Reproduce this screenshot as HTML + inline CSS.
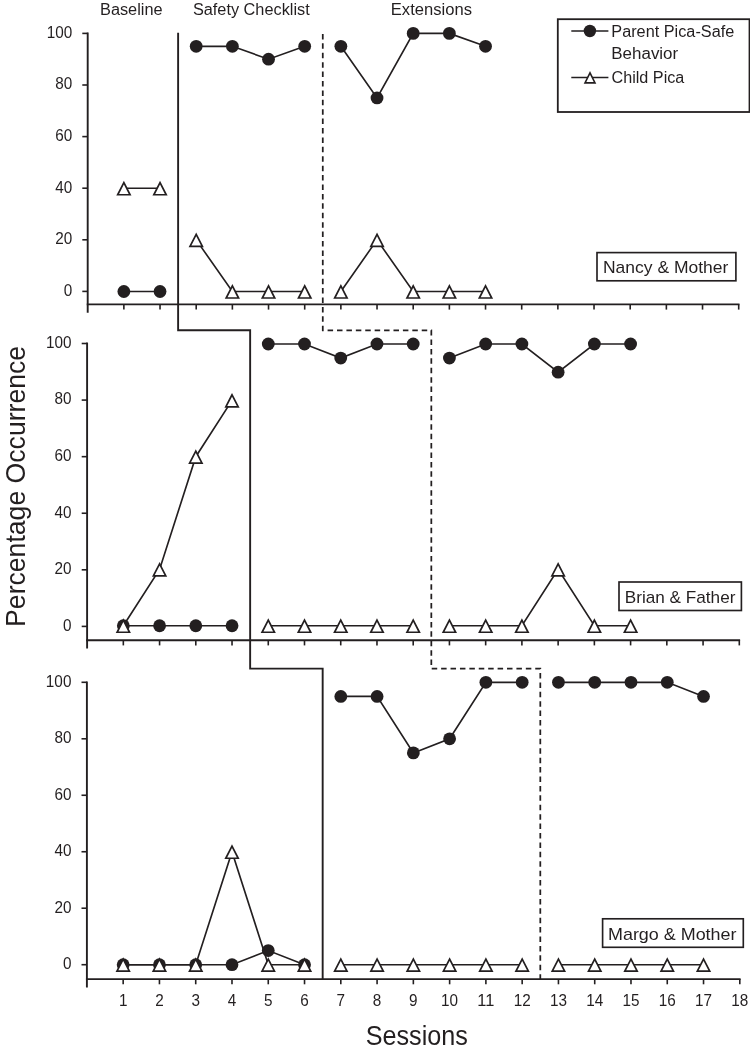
<!DOCTYPE html><html><head><meta charset="utf-8"><style>html,body{margin:0;padding:0;background:#fff}svg{display:block;will-change:transform}text{font-family:"Liberation Sans",sans-serif;fill:#231f20}</style></head><body>
<svg width="750" height="1055" viewBox="0 0 750 1055">
<rect width="750" height="1055" fill="#fff"/>
<g stroke="#231f20" stroke-width="1.9" fill="none">
<path d="M87.70 32.50 V312.70"/>
<path d="M86.75 304.40 H739.50"/>
</g>
<g stroke="#231f20" stroke-width="1.6" fill="none">
<path d="M82.30 291.40 H87.70"/>
<path d="M82.30 239.80 H87.70"/>
<path d="M82.30 188.20 H87.70"/>
<path d="M82.30 136.60 H87.70"/>
<path d="M82.30 85.00 H87.70"/>
<path d="M82.30 33.40 H87.70"/>
<path d="M123.87 304.40 V309.60"/>
<path d="M160.03 304.40 V309.60"/>
<path d="M196.20 304.40 V309.60"/>
<path d="M232.37 304.40 V309.60"/>
<path d="M268.53 304.40 V309.60"/>
<path d="M304.70 304.40 V309.60"/>
<path d="M340.87 304.40 V309.60"/>
<path d="M377.03 304.40 V309.60"/>
<path d="M413.20 304.40 V309.60"/>
<path d="M449.37 304.40 V309.60"/>
<path d="M485.53 304.40 V309.60"/>
<path d="M521.70 304.40 V309.60"/>
<path d="M557.87 304.40 V309.60"/>
<path d="M594.03 304.40 V309.60"/>
<path d="M630.20 304.40 V309.60"/>
<path d="M666.37 304.40 V309.60"/>
<path d="M702.53 304.40 V309.60"/>
<path d="M738.70 304.40 V309.60"/>
</g>
<text x="63.69" y="295.70" font-size="15.9" textLength="8.51" lengthAdjust="spacingAndGlyphs">0</text>
<text x="55.18" y="244.10" font-size="15.9" textLength="17.02" lengthAdjust="spacingAndGlyphs">20</text>
<text x="55.18" y="192.50" font-size="15.9" textLength="17.02" lengthAdjust="spacingAndGlyphs">40</text>
<text x="55.18" y="140.90" font-size="15.9" textLength="17.02" lengthAdjust="spacingAndGlyphs">60</text>
<text x="55.18" y="89.30" font-size="15.9" textLength="17.02" lengthAdjust="spacingAndGlyphs">80</text>
<text x="46.67" y="37.70" font-size="15.9" textLength="25.53" lengthAdjust="spacingAndGlyphs">100</text>
<g stroke="#231f20" stroke-width="1.65" fill="none">
<polyline points="123.87,291.50 160.03,291.50"/>
<polyline points="196.20,46.30 232.37,46.30 268.53,59.21 304.70,46.30"/>
<polyline points="340.87,46.30 377.03,97.93 413.20,33.40 449.37,33.40 485.53,46.30"/>
</g>
<g fill="#231f20">
<circle cx="123.87" cy="291.50" r="6.4"/>
<circle cx="160.03" cy="291.50" r="6.4"/>
<circle cx="196.20" cy="46.30" r="6.4"/>
<circle cx="232.37" cy="46.30" r="6.4"/>
<circle cx="268.53" cy="59.21" r="6.4"/>
<circle cx="304.70" cy="46.30" r="6.4"/>
<circle cx="340.87" cy="46.30" r="6.4"/>
<circle cx="377.03" cy="97.93" r="6.4"/>
<circle cx="413.20" cy="33.40" r="6.4"/>
<circle cx="449.37" cy="33.40" r="6.4"/>
<circle cx="485.53" cy="46.30" r="6.4"/>
</g>
<g stroke="#231f20" stroke-width="1.65" fill="none">
<polyline points="123.87,188.26 160.03,188.26"/>
<polyline points="196.20,239.88 232.37,291.50 268.53,291.50 304.70,291.50"/>
<polyline points="340.87,291.50 377.03,239.88 413.20,291.50 449.37,291.50 485.53,291.50"/>
</g>
<path d="M123.87 182.66 L117.67 194.76 L130.07 194.76 Z" fill="#fff" stroke="#231f20" stroke-width="1.70" stroke-linejoin="miter"/>
<path d="M160.03 182.66 L153.83 194.76 L166.23 194.76 Z" fill="#fff" stroke="#231f20" stroke-width="1.70" stroke-linejoin="miter"/>
<path d="M196.20 234.28 L190.00 246.38 L202.40 246.38 Z" fill="#fff" stroke="#231f20" stroke-width="1.70" stroke-linejoin="miter"/>
<path d="M232.37 285.90 L226.17 298.00 L238.57 298.00 Z" fill="#fff" stroke="#231f20" stroke-width="1.70" stroke-linejoin="miter"/>
<path d="M268.53 285.90 L262.33 298.00 L274.73 298.00 Z" fill="#fff" stroke="#231f20" stroke-width="1.70" stroke-linejoin="miter"/>
<path d="M304.70 285.90 L298.50 298.00 L310.90 298.00 Z" fill="#fff" stroke="#231f20" stroke-width="1.70" stroke-linejoin="miter"/>
<path d="M340.87 285.90 L334.67 298.00 L347.07 298.00 Z" fill="#fff" stroke="#231f20" stroke-width="1.70" stroke-linejoin="miter"/>
<path d="M377.03 234.28 L370.83 246.38 L383.23 246.38 Z" fill="#fff" stroke="#231f20" stroke-width="1.70" stroke-linejoin="miter"/>
<path d="M413.20 285.90 L407.00 298.00 L419.40 298.00 Z" fill="#fff" stroke="#231f20" stroke-width="1.70" stroke-linejoin="miter"/>
<path d="M449.37 285.90 L443.17 298.00 L455.57 298.00 Z" fill="#fff" stroke="#231f20" stroke-width="1.70" stroke-linejoin="miter"/>
<path d="M485.53 285.90 L479.33 298.00 L491.73 298.00 Z" fill="#fff" stroke="#231f20" stroke-width="1.70" stroke-linejoin="miter"/>
<g stroke="#231f20" stroke-width="1.9" fill="none">
<path d="M87.10 342.60 V648.50"/>
<path d="M86.15 640.20 H740.10"/>
</g>
<g stroke="#231f20" stroke-width="1.6" fill="none">
<path d="M81.70 626.40 H87.10"/>
<path d="M81.70 569.82 H87.10"/>
<path d="M81.70 513.24 H87.10"/>
<path d="M81.70 456.66 H87.10"/>
<path d="M81.70 400.08 H87.10"/>
<path d="M81.70 343.50 H87.10"/>
<path d="M123.33 640.20 V645.40"/>
<path d="M159.57 640.20 V645.40"/>
<path d="M195.80 640.20 V645.40"/>
<path d="M232.03 640.20 V645.40"/>
<path d="M268.27 640.20 V645.40"/>
<path d="M304.50 640.20 V645.40"/>
<path d="M340.73 640.20 V645.40"/>
<path d="M376.97 640.20 V645.40"/>
<path d="M413.20 640.20 V645.40"/>
<path d="M449.43 640.20 V645.40"/>
<path d="M485.67 640.20 V645.40"/>
<path d="M521.90 640.20 V645.40"/>
<path d="M558.13 640.20 V645.40"/>
<path d="M594.37 640.20 V645.40"/>
<path d="M630.60 640.20 V645.40"/>
<path d="M666.83 640.20 V645.40"/>
<path d="M703.07 640.20 V645.40"/>
<path d="M739.30 640.20 V645.40"/>
</g>
<text x="63.09" y="630.70" font-size="15.9" textLength="8.51" lengthAdjust="spacingAndGlyphs">0</text>
<text x="54.58" y="574.12" font-size="15.9" textLength="17.02" lengthAdjust="spacingAndGlyphs">20</text>
<text x="54.58" y="517.54" font-size="15.9" textLength="17.02" lengthAdjust="spacingAndGlyphs">40</text>
<text x="54.58" y="460.96" font-size="15.9" textLength="17.02" lengthAdjust="spacingAndGlyphs">60</text>
<text x="54.58" y="404.38" font-size="15.9" textLength="17.02" lengthAdjust="spacingAndGlyphs">80</text>
<text x="46.07" y="347.80" font-size="15.9" textLength="25.53" lengthAdjust="spacingAndGlyphs">100</text>
<g stroke="#231f20" stroke-width="1.65" fill="none">
<polyline points="123.33,625.75 159.57,625.75 195.80,625.75 232.03,625.75"/>
<polyline points="268.27,344.00 304.50,344.00 340.73,358.09 376.97,344.00 413.20,344.00"/>
<polyline points="449.43,358.09 485.67,344.00 521.90,344.00 558.13,372.18 594.37,344.00 630.60,344.00"/>
</g>
<g fill="#231f20">
<circle cx="123.33" cy="625.75" r="6.4"/>
<circle cx="159.57" cy="625.75" r="6.4"/>
<circle cx="195.80" cy="625.75" r="6.4"/>
<circle cx="232.03" cy="625.75" r="6.4"/>
<circle cx="268.27" cy="344.00" r="6.4"/>
<circle cx="304.50" cy="344.00" r="6.4"/>
<circle cx="340.73" cy="358.09" r="6.4"/>
<circle cx="376.97" cy="344.00" r="6.4"/>
<circle cx="413.20" cy="344.00" r="6.4"/>
<circle cx="449.43" cy="358.09" r="6.4"/>
<circle cx="485.67" cy="344.00" r="6.4"/>
<circle cx="521.90" cy="344.00" r="6.4"/>
<circle cx="558.13" cy="372.18" r="6.4"/>
<circle cx="594.37" cy="344.00" r="6.4"/>
<circle cx="630.60" cy="344.00" r="6.4"/>
</g>
<g stroke="#231f20" stroke-width="1.65" fill="none">
<polyline points="123.33,625.75 159.57,569.40 195.80,456.70 232.03,400.35"/>
<polyline points="268.27,625.75 304.50,625.75 340.73,625.75 376.97,625.75 413.20,625.75"/>
<polyline points="449.43,625.75 485.67,625.75 521.90,625.75 558.13,569.40 594.37,625.75 630.60,625.75"/>
</g>
<path d="M123.33 620.15 L117.13 632.25 L129.53 632.25 Z" fill="#fff" stroke="#231f20" stroke-width="1.70" stroke-linejoin="miter"/>
<path d="M159.57 563.80 L153.37 575.90 L165.77 575.90 Z" fill="#fff" stroke="#231f20" stroke-width="1.70" stroke-linejoin="miter"/>
<path d="M195.80 451.10 L189.60 463.20 L202.00 463.20 Z" fill="#fff" stroke="#231f20" stroke-width="1.70" stroke-linejoin="miter"/>
<path d="M232.03 394.75 L225.83 406.85 L238.23 406.85 Z" fill="#fff" stroke="#231f20" stroke-width="1.70" stroke-linejoin="miter"/>
<path d="M268.27 620.15 L262.07 632.25 L274.47 632.25 Z" fill="#fff" stroke="#231f20" stroke-width="1.70" stroke-linejoin="miter"/>
<path d="M304.50 620.15 L298.30 632.25 L310.70 632.25 Z" fill="#fff" stroke="#231f20" stroke-width="1.70" stroke-linejoin="miter"/>
<path d="M340.73 620.15 L334.53 632.25 L346.93 632.25 Z" fill="#fff" stroke="#231f20" stroke-width="1.70" stroke-linejoin="miter"/>
<path d="M376.97 620.15 L370.77 632.25 L383.17 632.25 Z" fill="#fff" stroke="#231f20" stroke-width="1.70" stroke-linejoin="miter"/>
<path d="M413.20 620.15 L407.00 632.25 L419.40 632.25 Z" fill="#fff" stroke="#231f20" stroke-width="1.70" stroke-linejoin="miter"/>
<path d="M449.43 620.15 L443.23 632.25 L455.63 632.25 Z" fill="#fff" stroke="#231f20" stroke-width="1.70" stroke-linejoin="miter"/>
<path d="M485.67 620.15 L479.47 632.25 L491.87 632.25 Z" fill="#fff" stroke="#231f20" stroke-width="1.70" stroke-linejoin="miter"/>
<path d="M521.90 620.15 L515.70 632.25 L528.10 632.25 Z" fill="#fff" stroke="#231f20" stroke-width="1.70" stroke-linejoin="miter"/>
<path d="M558.13 563.80 L551.93 575.90 L564.33 575.90 Z" fill="#fff" stroke="#231f20" stroke-width="1.70" stroke-linejoin="miter"/>
<path d="M594.37 620.15 L588.17 632.25 L600.57 632.25 Z" fill="#fff" stroke="#231f20" stroke-width="1.70" stroke-linejoin="miter"/>
<path d="M630.60 620.15 L624.40 632.25 L636.80 632.25 Z" fill="#fff" stroke="#231f20" stroke-width="1.70" stroke-linejoin="miter"/>
<g stroke="#231f20" stroke-width="1.9" fill="none">
<path d="M86.90 681.40 V987.40"/>
<path d="M85.95 979.10 H740.60"/>
</g>
<g stroke="#231f20" stroke-width="1.6" fill="none">
<path d="M81.50 964.70 H86.90"/>
<path d="M81.50 908.22 H86.90"/>
<path d="M81.50 851.74 H86.90"/>
<path d="M81.50 795.26 H86.90"/>
<path d="M81.50 738.78 H86.90"/>
<path d="M81.50 682.30 H86.90"/>
<path d="M123.17 979.10 V984.30"/>
<path d="M159.44 979.10 V984.30"/>
<path d="M195.72 979.10 V984.30"/>
<path d="M231.99 979.10 V984.30"/>
<path d="M268.26 979.10 V984.30"/>
<path d="M304.53 979.10 V984.30"/>
<path d="M340.81 979.10 V984.30"/>
<path d="M377.08 979.10 V984.30"/>
<path d="M413.35 979.10 V984.30"/>
<path d="M449.62 979.10 V984.30"/>
<path d="M485.89 979.10 V984.30"/>
<path d="M522.17 979.10 V984.30"/>
<path d="M558.44 979.10 V984.30"/>
<path d="M594.71 979.10 V984.30"/>
<path d="M630.98 979.10 V984.30"/>
<path d="M667.26 979.10 V984.30"/>
<path d="M703.53 979.10 V984.30"/>
<path d="M739.80 979.10 V984.30"/>
</g>
<text x="62.89" y="969.00" font-size="15.9" textLength="8.51" lengthAdjust="spacingAndGlyphs">0</text>
<text x="54.38" y="912.52" font-size="15.9" textLength="17.02" lengthAdjust="spacingAndGlyphs">20</text>
<text x="54.38" y="856.04" font-size="15.9" textLength="17.02" lengthAdjust="spacingAndGlyphs">40</text>
<text x="54.38" y="799.56" font-size="15.9" textLength="17.02" lengthAdjust="spacingAndGlyphs">60</text>
<text x="54.38" y="743.08" font-size="15.9" textLength="17.02" lengthAdjust="spacingAndGlyphs">80</text>
<text x="45.87" y="686.60" font-size="15.9" textLength="25.53" lengthAdjust="spacingAndGlyphs">100</text>
<g stroke="#231f20" stroke-width="1.65" fill="none">
<polyline points="123.17,964.70 159.44,964.70 195.72,964.70 231.99,964.70 268.26,950.58 304.53,964.70"/>
<polyline points="340.81,696.42 377.08,696.42 413.35,752.90 449.62,738.78 485.89,682.30 522.17,682.30"/>
<polyline points="558.44,682.30 594.71,682.30 630.98,682.30 667.26,682.30 703.53,696.42"/>
</g>
<g fill="#231f20">
<circle cx="123.17" cy="964.70" r="6.4"/>
<circle cx="159.44" cy="964.70" r="6.4"/>
<circle cx="195.72" cy="964.70" r="6.4"/>
<circle cx="231.99" cy="964.70" r="6.4"/>
<circle cx="268.26" cy="950.58" r="6.4"/>
<circle cx="304.53" cy="964.70" r="6.4"/>
<circle cx="340.81" cy="696.42" r="6.4"/>
<circle cx="377.08" cy="696.42" r="6.4"/>
<circle cx="413.35" cy="752.90" r="6.4"/>
<circle cx="449.62" cy="738.78" r="6.4"/>
<circle cx="485.89" cy="682.30" r="6.4"/>
<circle cx="522.17" cy="682.30" r="6.4"/>
<circle cx="558.44" cy="682.30" r="6.4"/>
<circle cx="594.71" cy="682.30" r="6.4"/>
<circle cx="630.98" cy="682.30" r="6.4"/>
<circle cx="667.26" cy="682.30" r="6.4"/>
<circle cx="703.53" cy="696.42" r="6.4"/>
</g>
<g stroke="#231f20" stroke-width="1.65" fill="none">
<polyline points="123.17,964.70 159.44,964.70 195.72,964.70 231.99,851.74 268.26,964.70 304.53,964.70"/>
<polyline points="340.81,964.70 377.08,964.70 413.35,964.70 449.62,964.70 485.89,964.70 522.17,964.70"/>
<polyline points="558.44,964.70 594.71,964.70 630.98,964.70 667.26,964.70 703.53,964.70"/>
</g>
<path d="M123.17 959.10 L116.97 971.20 L129.37 971.20 Z" fill="#fff" stroke="#231f20" stroke-width="1.70" stroke-linejoin="miter"/>
<path d="M159.44 959.10 L153.24 971.20 L165.64 971.20 Z" fill="#fff" stroke="#231f20" stroke-width="1.70" stroke-linejoin="miter"/>
<path d="M195.72 959.10 L189.52 971.20 L201.92 971.20 Z" fill="#fff" stroke="#231f20" stroke-width="1.70" stroke-linejoin="miter"/>
<path d="M231.99 846.14 L225.79 858.24 L238.19 858.24 Z" fill="#fff" stroke="#231f20" stroke-width="1.70" stroke-linejoin="miter"/>
<path d="M268.26 959.10 L262.06 971.20 L274.46 971.20 Z" fill="#fff" stroke="#231f20" stroke-width="1.70" stroke-linejoin="miter"/>
<path d="M304.53 959.10 L298.33 971.20 L310.73 971.20 Z" fill="#fff" stroke="#231f20" stroke-width="1.70" stroke-linejoin="miter"/>
<path d="M340.81 959.10 L334.61 971.20 L347.01 971.20 Z" fill="#fff" stroke="#231f20" stroke-width="1.70" stroke-linejoin="miter"/>
<path d="M377.08 959.10 L370.88 971.20 L383.28 971.20 Z" fill="#fff" stroke="#231f20" stroke-width="1.70" stroke-linejoin="miter"/>
<path d="M413.35 959.10 L407.15 971.20 L419.55 971.20 Z" fill="#fff" stroke="#231f20" stroke-width="1.70" stroke-linejoin="miter"/>
<path d="M449.62 959.10 L443.42 971.20 L455.82 971.20 Z" fill="#fff" stroke="#231f20" stroke-width="1.70" stroke-linejoin="miter"/>
<path d="M485.89 959.10 L479.69 971.20 L492.09 971.20 Z" fill="#fff" stroke="#231f20" stroke-width="1.70" stroke-linejoin="miter"/>
<path d="M522.17 959.10 L515.97 971.20 L528.37 971.20 Z" fill="#fff" stroke="#231f20" stroke-width="1.70" stroke-linejoin="miter"/>
<path d="M558.44 959.10 L552.24 971.20 L564.64 971.20 Z" fill="#fff" stroke="#231f20" stroke-width="1.70" stroke-linejoin="miter"/>
<path d="M594.71 959.10 L588.51 971.20 L600.91 971.20 Z" fill="#fff" stroke="#231f20" stroke-width="1.70" stroke-linejoin="miter"/>
<path d="M630.98 959.10 L624.78 971.20 L637.18 971.20 Z" fill="#fff" stroke="#231f20" stroke-width="1.70" stroke-linejoin="miter"/>
<path d="M667.26 959.10 L661.06 971.20 L673.46 971.20 Z" fill="#fff" stroke="#231f20" stroke-width="1.70" stroke-linejoin="miter"/>
<path d="M703.53 959.10 L697.33 971.20 L709.73 971.20 Z" fill="#fff" stroke="#231f20" stroke-width="1.70" stroke-linejoin="miter"/>
<text x="118.92" y="1006.3" font-size="15.9" textLength="8.51" lengthAdjust="spacingAndGlyphs">1</text>
<text x="155.19" y="1006.3" font-size="15.9" textLength="8.51" lengthAdjust="spacingAndGlyphs">2</text>
<text x="191.46" y="1006.3" font-size="15.9" textLength="8.51" lengthAdjust="spacingAndGlyphs">3</text>
<text x="227.73" y="1006.3" font-size="15.9" textLength="8.51" lengthAdjust="spacingAndGlyphs">4</text>
<text x="264.01" y="1006.3" font-size="15.9" textLength="8.51" lengthAdjust="spacingAndGlyphs">5</text>
<text x="300.28" y="1006.3" font-size="15.9" textLength="8.51" lengthAdjust="spacingAndGlyphs">6</text>
<text x="336.55" y="1006.3" font-size="15.9" textLength="8.51" lengthAdjust="spacingAndGlyphs">7</text>
<text x="372.82" y="1006.3" font-size="15.9" textLength="8.51" lengthAdjust="spacingAndGlyphs">8</text>
<text x="409.10" y="1006.3" font-size="15.9" textLength="8.51" lengthAdjust="spacingAndGlyphs">9</text>
<text x="441.11" y="1006.3" font-size="15.9" textLength="17.02" lengthAdjust="spacingAndGlyphs">10</text>
<text x="477.38" y="1006.3" font-size="15.9" textLength="17.02" lengthAdjust="spacingAndGlyphs">11</text>
<text x="513.66" y="1006.3" font-size="15.9" textLength="17.02" lengthAdjust="spacingAndGlyphs">12</text>
<text x="549.93" y="1006.3" font-size="15.9" textLength="17.02" lengthAdjust="spacingAndGlyphs">13</text>
<text x="586.20" y="1006.3" font-size="15.9" textLength="17.02" lengthAdjust="spacingAndGlyphs">14</text>
<text x="622.47" y="1006.3" font-size="15.9" textLength="17.02" lengthAdjust="spacingAndGlyphs">15</text>
<text x="658.75" y="1006.3" font-size="15.9" textLength="17.02" lengthAdjust="spacingAndGlyphs">16</text>
<text x="695.02" y="1006.3" font-size="15.9" textLength="17.02" lengthAdjust="spacingAndGlyphs">17</text>
<text x="731.29" y="1006.3" font-size="15.9" textLength="17.02" lengthAdjust="spacingAndGlyphs">18</text>
<path d="M178.12 32.80 V330.3 H250.15 V668.6 H322.67 V979.15" fill="none" stroke="#231f20" stroke-width="1.9"/>
<path d="M322.78 33.90 V330.3 H431.32 V668.6 H540.30 V979.15" fill="none" stroke="#231f20" stroke-width="1.75" stroke-dasharray="5.5 3.913"/>
<text x="100.00" y="14.50" font-size="16.00" textLength="62.60" lengthAdjust="spacingAndGlyphs">Baseline</text>
<text x="192.90" y="15.10" font-size="16.00" textLength="116.80" lengthAdjust="spacingAndGlyphs">Safety Checklist</text>
<text x="390.80" y="14.70" font-size="16.00" textLength="81.20" lengthAdjust="spacingAndGlyphs">Extensions</text>
<rect x="557.8" y="19.2" width="191.7" height="92.8" fill="#fff" stroke="#231f20" stroke-width="1.8"/>
<path d="M571.3 31.0 H608.4 M571.3 77.5 H608.4" stroke="#231f20" stroke-width="1.7"/>
<circle cx="589.9" cy="31.0" r="6.2" fill="#231f20"/>
<path d="M590 72.8 L585.0 82.9 L595.0 82.9 Z" fill="#fff" stroke="#231f20" stroke-width="1.6"/>
<text x="611.30" y="36.50" font-size="15.60" textLength="123.00" lengthAdjust="spacingAndGlyphs">Parent Pica-Safe</text>
<text x="611.30" y="58.70" font-size="15.60" textLength="66.90" lengthAdjust="spacingAndGlyphs">Behavior</text>
<text x="611.50" y="82.80" font-size="15.60" textLength="72.80" lengthAdjust="spacingAndGlyphs">Child Pica</text>
<rect x="597.00" y="252.60" width="138.90" height="28.20" fill="#fff" stroke="#231f20" stroke-width="1.65"/>
<text x="603.00" y="273.20" font-size="15.70" textLength="125.30" lengthAdjust="spacingAndGlyphs">Nancy &amp; Mother</text>
<rect x="619.00" y="582.00" width="122.40" height="28.50" fill="#fff" stroke="#231f20" stroke-width="1.65"/>
<text x="624.80" y="603.20" font-size="15.70" textLength="110.60" lengthAdjust="spacingAndGlyphs">Brian &amp; Father</text>
<rect x="602.60" y="918.80" width="140.70" height="28.50" fill="#fff" stroke="#231f20" stroke-width="1.65"/>
<text x="608.00" y="939.50" font-size="15.70" textLength="128.50" lengthAdjust="spacingAndGlyphs">Margo &amp; Mother</text>
<text x="365.70" y="1045.10" font-size="27.00" textLength="102.20" lengthAdjust="spacingAndGlyphs">Sessions</text>
<text transform="translate(25.30 626.90) rotate(-90)" font-size="28.00" textLength="281.00" lengthAdjust="spacingAndGlyphs">Percentage Occurrence</text>
</svg></body></html>
